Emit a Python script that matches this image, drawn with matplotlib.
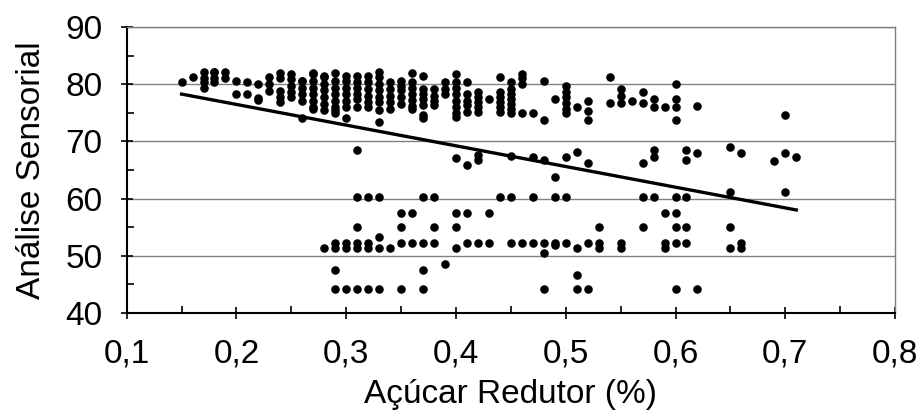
import numpy as np
import matplotlib
matplotlib.use("Agg")
import matplotlib.pyplot as plt
from matplotlib.ticker import MultipleLocator, FuncFormatter

# upper cluster, one column per sugar value
upper_x = [0.15, 0.16, 0.17, 0.18, 0.19, 0.20, 0.21, 0.22, 0.23, 0.24,
           0.25, 0.26, 0.27, 0.28, 0.29, 0.30, 0.31, 0.32, 0.33, 0.34,
           0.35, 0.36, 0.37, 0.38, 0.39, 0.40, 0.41, 0.42, 0.43, 0.44,
           0.45, 0.46, 0.47, 0.48, 0.49, 0.50, 0.51, 0.52, 0.54, 0.55,
           0.56, 0.57, 0.58, 0.59, 0.60, 0.62, 0.70]
upper_y = [[80.3], [81.2], [80.3, 79.4, 82.1, 81.0], [82.1, 80.3, 81.0, 82.1],
           [82.1, 81.1], [80.5, 78.3], [80.3, 78.3], [77.2, 80.1, 77.5],
           [81.3, 80.1, 78.8], [82.0, 81.1, 78.8, 77.7, 76.8],
           [81.8, 80.9, 79.7, 78.6, 77.7], [80.6, 79.4, 78.3, 77.1, 74.0, 80.5],
           [82.0, 81.8, 80.6, 79.4, 78.3, 77.1, 76.0, 75.6],
           [81.5, 81.2, 80.0, 78.9, 77.7, 76.6, 75.4],
           [82.0, 80.6, 79.4, 78.3, 77.1, 76.0, 74.9, 75.4],
           [81.5, 80.6, 79.4, 78.3, 77.1, 76.0, 74.0],
           [81.5, 80.3, 79.4, 78.3, 77.4, 76.0],
           [81.5, 80.3, 79.1, 78.0, 76.8, 76.0],
           [82.1, 81.2, 80.0, 78.9, 77.7, 76.8, 75.4, 73.4],
           [80.3, 79.1, 78.0, 76.8, 75.7],
           [80.6, 79.7, 78.9, 77.7, 76.6],
           [82.0, 80.3, 79.4, 78.3, 77.3, 76.2, 75.7],
           [81.5, 79.1, 78.3, 77.4, 76.3, 74.6, 74.0],
           [79.1, 78.0, 77.1, 76.3], [80.3, 79.1, 78.3],
           [81.7, 80.3, 79.4, 78.3, 77.1, 76.0, 74.9, 74.3],
           [80.3, 78.3, 77.1, 76.3, 75.1], [78.6, 77.7, 76.8, 76.0, 75.1],
           [77.4], [81.3, 78.6, 77.7, 76.8, 76.0, 75.1],
           [80.3, 79.1, 78.3, 77.4, 76.6, 75.7, 74.9],
           [81.8, 81.1, 80.1, 75.0], [75.0], [80.6, 73.7], [77.4],
           [79.7, 78.7, 77.7, 76.7, 75.7, 75.0], [76.0], [77.0, 75.3, 73.7],
           [81.2, 76.7], [79.1, 78.0, 76.7], [77.0], [78.7, 76.7],
           [77.4, 76.0], [76.0], [80.1, 77.4, 76.0, 73.7], [76.2], [74.6]]

# middle band
mid_x = [0.31, 0.40, 0.41, 0.42, 0.42, 0.45, 0.47, 0.48, 0.49, 0.50, 0.51, 0.52,
         0.57, 0.58, 0.58, 0.61, 0.61, 0.62, 0.65, 0.66, 0.69, 0.70, 0.71, 0.65, 0.70]
mid_y = [68.5, 67.1, 65.8, 67.7, 66.8, 67.5, 67.3, 66.7, 63.7, 67.3, 68.1, 66.2,
         66.2, 68.5, 67.3, 68.5, 66.7, 68.0, 69.1, 68.0, 66.6, 68.0, 67.3, 61.2, 61.2]

# lower band, grouped by score level
low_levels = [60.3, 57.4, 55.0, 53.3, 52.3, 51.8, 51.3, 50.5, 48.5, 47.5, 46.6, 44.2]
low_x = [[0.31, 0.32, 0.33, 0.37, 0.38, 0.44, 0.45, 0.47, 0.49, 0.50, 0.57, 0.58, 0.60, 0.61],
         [0.35, 0.36, 0.40, 0.41, 0.43, 0.59, 0.60],
         [0.31, 0.35, 0.38, 0.40, 0.53, 0.57, 0.60, 0.61, 0.65],
         [0.33],
         [0.29, 0.30, 0.31, 0.32, 0.35, 0.36, 0.37, 0.38, 0.41, 0.42, 0.43, 0.45,
          0.46, 0.47, 0.48, 0.49, 0.50, 0.52, 0.53, 0.55, 0.59, 0.60, 0.61, 0.66],
         [0.49],
         [0.28, 0.29, 0.30, 0.31, 0.32, 0.33, 0.34, 0.40, 0.51, 0.53, 0.55, 0.59, 0.65, 0.66],
         [0.48],
         [0.39],
         [0.29, 0.37],
         [0.51],
         [0.29, 0.30, 0.31, 0.32, 0.33, 0.35, 0.37, 0.48, 0.51, 0.52, 0.60, 0.62]]

# linear trend
trend_slope = -36.2
trend_intercept = 83.7

# %%
plt.rcParams['font.family'] = ['Liberation Sans', 'DejaVu Sans']

x_all = np.concatenate([np.repeat(upper_x, [len(c) for c in upper_y]),
                        mid_x,
                        np.concatenate(low_x)])
y_all = np.concatenate([np.concatenate(upper_y),
                        mid_y,
                        np.repeat(low_levels, [len(c) for c in low_x])])

fig, ax = plt.subplots(figsize=(9.18, 4.16), dpi=100)
fig.subplots_adjust(left=0.138, right=0.975, top=0.935, bottom=0.248)

# horizontal grid
ax.set_axisbelow(True)
ax.yaxis.grid(True, color="#808080", linewidth=1.0)

# scatter points
ax.scatter(x_all, y_all, s=38, color="black", linewidths=0, zorder=3)

# trend line over the data range
x_line = np.array([x_all.min(), x_all.max()])
ax.plot(x_line, trend_intercept + trend_slope * x_line, color="black", linewidth=2.4, zorder=4)

# axes formatting
ax.set_xlim(0.1, 0.8)
ax.set_ylim(40, 90)
ax.xaxis.set_major_locator(MultipleLocator(0.1))
ax.xaxis.set_minor_locator(MultipleLocator(0.05))
ax.yaxis.set_major_locator(MultipleLocator(10))
ax.yaxis.set_minor_locator(MultipleLocator(5))
ax.xaxis.set_major_formatter(FuncFormatter(lambda v, p: f"{v:.1f}".replace(".", ",")))

ax.tick_params(which="major", direction="inout", length=9, width=1.2, labelsize=24)
ax.tick_params(axis="x", which="major", pad=14)
ax.tick_params(axis="y", which="major", pad=13)
ax.tick_params(which="minor", direction="in", length=5, width=1.2)

for side in ["left", "bottom"]:
    ax.spines[side].set_color("black")
    ax.spines[side].set_linewidth(1.5)
for side in ["top", "right"]:
    ax.spines[side].set_color("#808080")
    ax.spines[side].set_linewidth(1.0)

ax.set_xlabel("Açúcar Redutor (%)", fontsize=24, labelpad=7)
ax.set_ylabel("Análise Sensorial", fontsize=24, labelpad=13)

plt.savefig("out.png", dpi=100)
plt.close()
